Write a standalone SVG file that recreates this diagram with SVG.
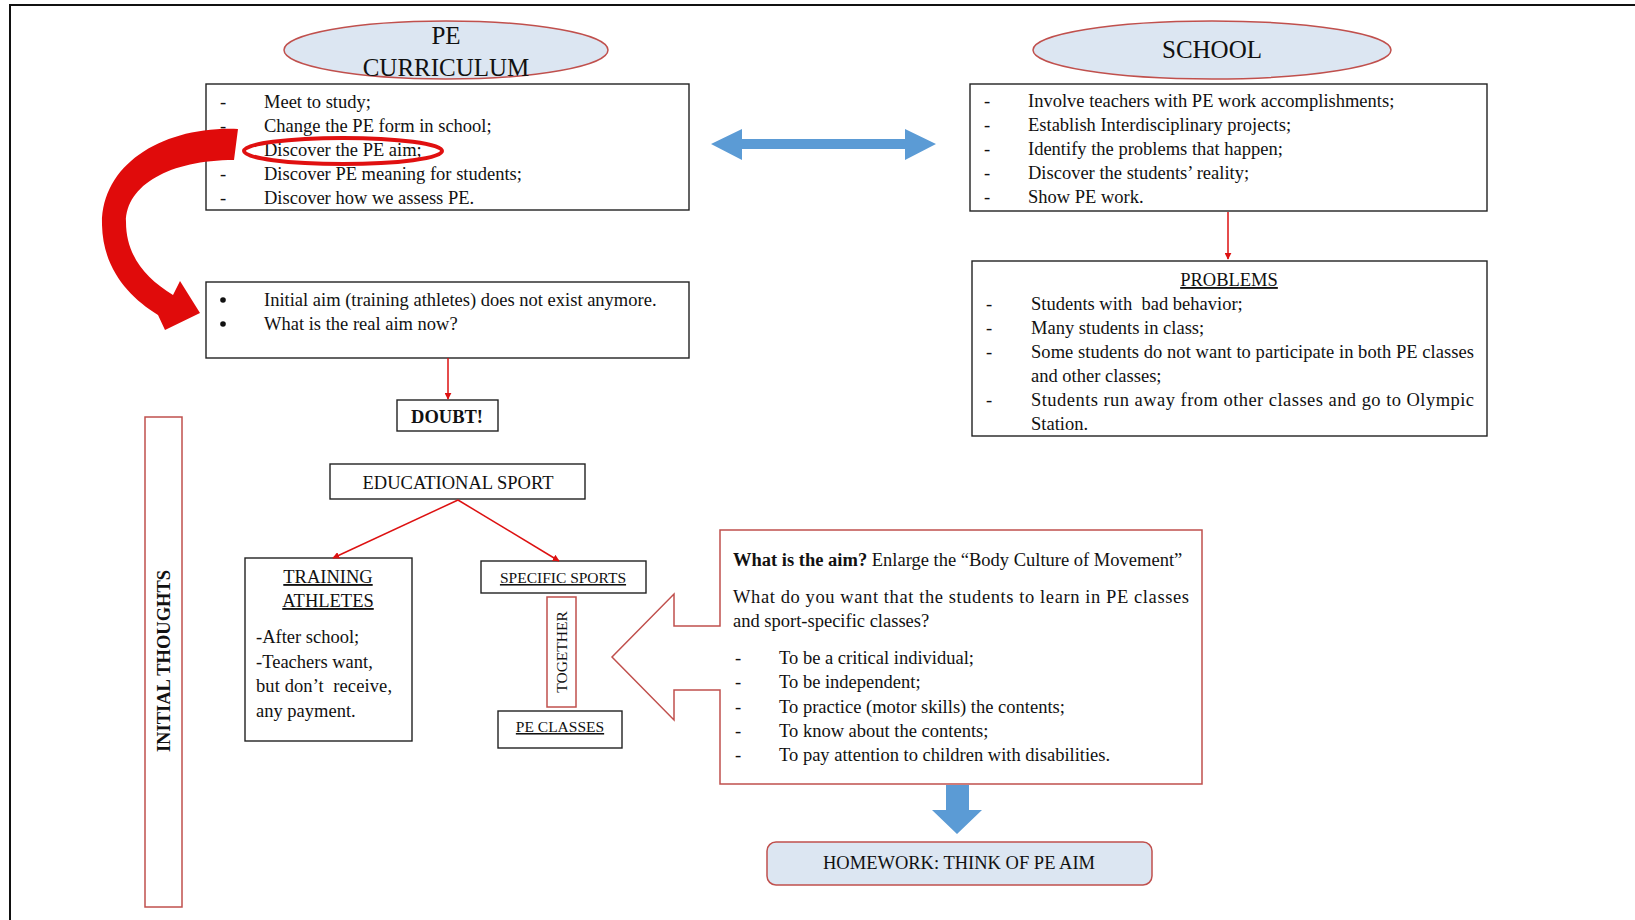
<svg xmlns="http://www.w3.org/2000/svg" width="1635" height="920" viewBox="0 0 1635 920">
  <style>
    text { font-family: "Liberation Serif", "Times New Roman", serif; fill: #111; }
    .t { font-size: 18.5px; }
    .s { font-size: 15.5px; }
    .h { font-size: 25px; }
    .b { font-weight: bold; }
    .u { text-decoration: underline; }
    .box { fill: #fff; stroke: #222; stroke-width: 1.4; }
    .rbox { fill: #fff; stroke: #c0504d; stroke-width: 1.5; }
    .oval { fill: #dce6f2; stroke: #c0504d; stroke-width: 1.5; }
    .link { fill: none; stroke: #d11; stroke-width: 1.5; }
    .blue { fill: #5b9bd5; }
  </style>
  <defs>
    <marker id="tip" viewBox="0 0 10 10" refX="9" refY="5" markerWidth="7" markerHeight="7" markerUnits="userSpaceOnUse" orient="auto">
      <path d="M0,0 L10,5 L0,10 Z" fill="#d11"/>
    </marker>
  </defs>

  <rect width="1635" height="920" fill="#fff"/>
  <!-- page frame (top and left edges) -->
  <polyline points="10,920 10,5 1635,5" fill="none" stroke="#111" stroke-width="2"/>

  <!-- PE curriculum header -->
  <g id="pe-curriculum">
    <ellipse class="oval" cx="446" cy="50" rx="162" ry="29"/>
    <text class="h" x="446" y="44" text-anchor="middle">PE</text>
    <text class="h" x="446" y="76" text-anchor="middle">CURRICULUM</text>
  </g>

  <g id="pe-list">
    <rect class="box" x="206" y="84" width="483" height="126"/>
    <g class="t">
      <text x="220" y="108">-</text><text x="264" y="108">Meet to study;</text>
      <text x="220" y="132">-</text><text x="264" y="132">Change the PE form in school;</text>
      <text x="264" y="156">Discover the PE aim;</text>
      <text x="220" y="180">-</text><text x="264" y="180">Discover PE meaning for students;</text>
      <text x="220" y="204">-</text><text x="264" y="204">Discover how we assess PE.</text>
    </g>
    <ellipse cx="343" cy="151" rx="99" ry="13" fill="none" stroke="#e01010" stroke-width="4"/>
  </g>

  <!-- School header -->
  <g id="school">
    <ellipse class="oval" cx="1212" cy="50" rx="179" ry="29"/>
    <text class="h" x="1212" y="58" text-anchor="middle">SCHOOL</text>
  </g>

  <g id="school-list">
    <rect class="box" x="970" y="84" width="517" height="127"/>
    <g class="t">
      <text x="984" y="107">-</text><text x="1028" y="107">Involve teachers with PE work accomplishments;</text>
      <text x="984" y="131">-</text><text x="1028" y="131">Establish Interdisciplinary projects;</text>
      <text x="984" y="155">-</text><text x="1028" y="155">Identify the problems that happen;</text>
      <text x="984" y="179">-</text><text x="1028" y="179">Discover the students’ reality;</text>
      <text x="984" y="203">-</text><text x="1028" y="203">Show PE work.</text>
    </g>
  </g>

  <g id="problems">
    <rect class="box" x="972" y="261" width="515" height="175"/>
    <g class="t">
      <text class="u" x="1229" y="286" text-anchor="middle">PROBLEMS</text>
      <text x="986" y="310">-</text><text x="1031" y="310">Students with&#160; bad behavior;</text>
      <text x="986" y="334">-</text><text x="1031" y="334">Many students in class;</text>
      <text x="986" y="358">-</text><text x="1031" y="358" textLength="443" lengthAdjust="spacing">Some students do not want to participate in both PE classes</text>
      <text x="1031" y="382">and other classes;</text>
      <text x="986" y="406">-</text><text x="1031" y="406" textLength="443" lengthAdjust="spacing">Students run away from other classes and go to Olympic</text>
      <text x="1031" y="430">Station.</text>
    </g>
  </g>

  <g id="initial-aim">
    <rect class="box" x="206" y="282" width="483" height="76"/>
    <circle cx="223" cy="300" r="2.8" fill="#111"/>
    <circle cx="223" cy="324" r="2.8" fill="#111"/>
    <g class="t">
      <text x="264" y="306">Initial aim (training athletes) does not exist anymore.</text>
      <text x="264" y="330">What is the real aim now?</text>
    </g>
  </g>

  <g id="doubt">
    <rect class="box" x="397" y="400" width="101" height="31"/>
    <text class="t b" x="447" y="423" text-anchor="middle">DOUBT!</text>
  </g>

  <g id="initial-thoughts">
    <rect class="rbox" x="145" y="417" width="37" height="490"/>
    <text class="t b" transform="translate(170,661) rotate(-90)" text-anchor="middle">INITIAL THOUGHTS</text>
  </g>

  <g id="educational-sport">
    <rect class="box" x="330" y="464" width="255" height="35"/>
    <text class="t" x="458" y="489" text-anchor="middle">EDUCATIONAL SPORT</text>
  </g>

  <g id="training-athletes">
    <rect class="box" x="245" y="558" width="167" height="183"/>
    <g class="t">
      <text class="u" x="328" y="583" text-anchor="middle">TRAINING</text>
      <text class="u" x="328" y="607" text-anchor="middle">ATHLETES</text>
      <text x="256" y="643">-After school;</text>
      <text x="256" y="668">-Teachers want,</text>
      <text x="256" y="692" textLength="136" lengthAdjust="spacing">but don’t&#160; receive,</text>
      <text x="256" y="717">any payment.</text>
    </g>
  </g>

  <g id="specific-sports">
    <rect class="box" x="481" y="561" width="165" height="32"/>
    <text class="s u" x="563" y="583" text-anchor="middle">SPECIFIC SPORTS</text>
  </g>

  <g id="together">
    <rect class="rbox" x="547" y="597" width="29" height="110"/>
    <text class="s" transform="translate(567,652) rotate(-90)" text-anchor="middle">TOGETHER</text>
  </g>

  <g id="pe-classes">
    <rect class="box" x="498" y="711" width="124" height="37"/>
    <text class="s u" x="560" y="732" text-anchor="middle">PE CLASSES</text>
  </g>

  <!-- left-pointing callout with the aim questions -->
  <g id="aim-callout">
    <path class="rbox" d="M720,530 H1202 V784 H720 V690 H674 V720 L612,657 L674,594 V626 H720 Z"/>
    <g class="t">
      <text x="733" y="566"><tspan class="b">What is the aim?</tspan> Enlarge the “Body Culture of Movement”</text>
      <text x="733" y="603" textLength="456" lengthAdjust="spacing">What do you want that the students to learn in PE classes</text>
      <text x="733" y="627">and sport-specific classes?</text>
      <text x="735" y="664">-</text><text x="779" y="664">To be a critical individual;</text>
      <text x="735" y="688">-</text><text x="779" y="688">To be independent;</text>
      <text x="735" y="713">-</text><text x="779" y="713">To practice (motor skills) the contents;</text>
      <text x="735" y="737">-</text><text x="779" y="737">To know about the contents;</text>
      <text x="735" y="761">-</text><text x="779" y="761">To pay attention to children with disabilities.</text>
    </g>
  </g>

  <g id="homework">
    <rect x="767" y="842" width="385" height="43" rx="9" fill="#dce6f2" stroke="#c0504d" stroke-width="1.5"/>
    <text class="t" x="959" y="869" text-anchor="middle">HOMEWORK: THINK OF PE AIM</text>
  </g>

  <g id="connectors">
    <!-- curved red arrow from the curriculum list to the initial aim box -->
    <path d="M238,129 C163,126 101,164 102,225 C103,269 129,297 158,315 L165,330 L200,313 L180,281 L173,295 C145,278 126,255 126,222 C126,185 170,160 234,160 Z" fill="#e00b0b"/>
    <!-- two-way link between curriculum and school -->
    <path class="blue" d="M711,144 L742,129 V139 H905 V129 L936,144 L905,160 V149 H742 V160 Z"/>
    <line class="link" x1="448" y1="358" x2="448" y2="399" marker-end="url(#tip)"/>
    <line class="link" x1="1228" y1="212" x2="1228" y2="259" marker-end="url(#tip)"/>
    <line class="link" x1="458" y1="500" x2="333" y2="558" marker-end="url(#tip)"/>
    <line class="link" x1="458" y1="500" x2="559" y2="561" marker-end="url(#tip)"/>
    <!-- down arrow from the callout to the homework box -->
    <path class="blue" d="M946,785 H969 V810 H982 L957,834 L932,810 H946 Z"/>
  </g>
</svg>
